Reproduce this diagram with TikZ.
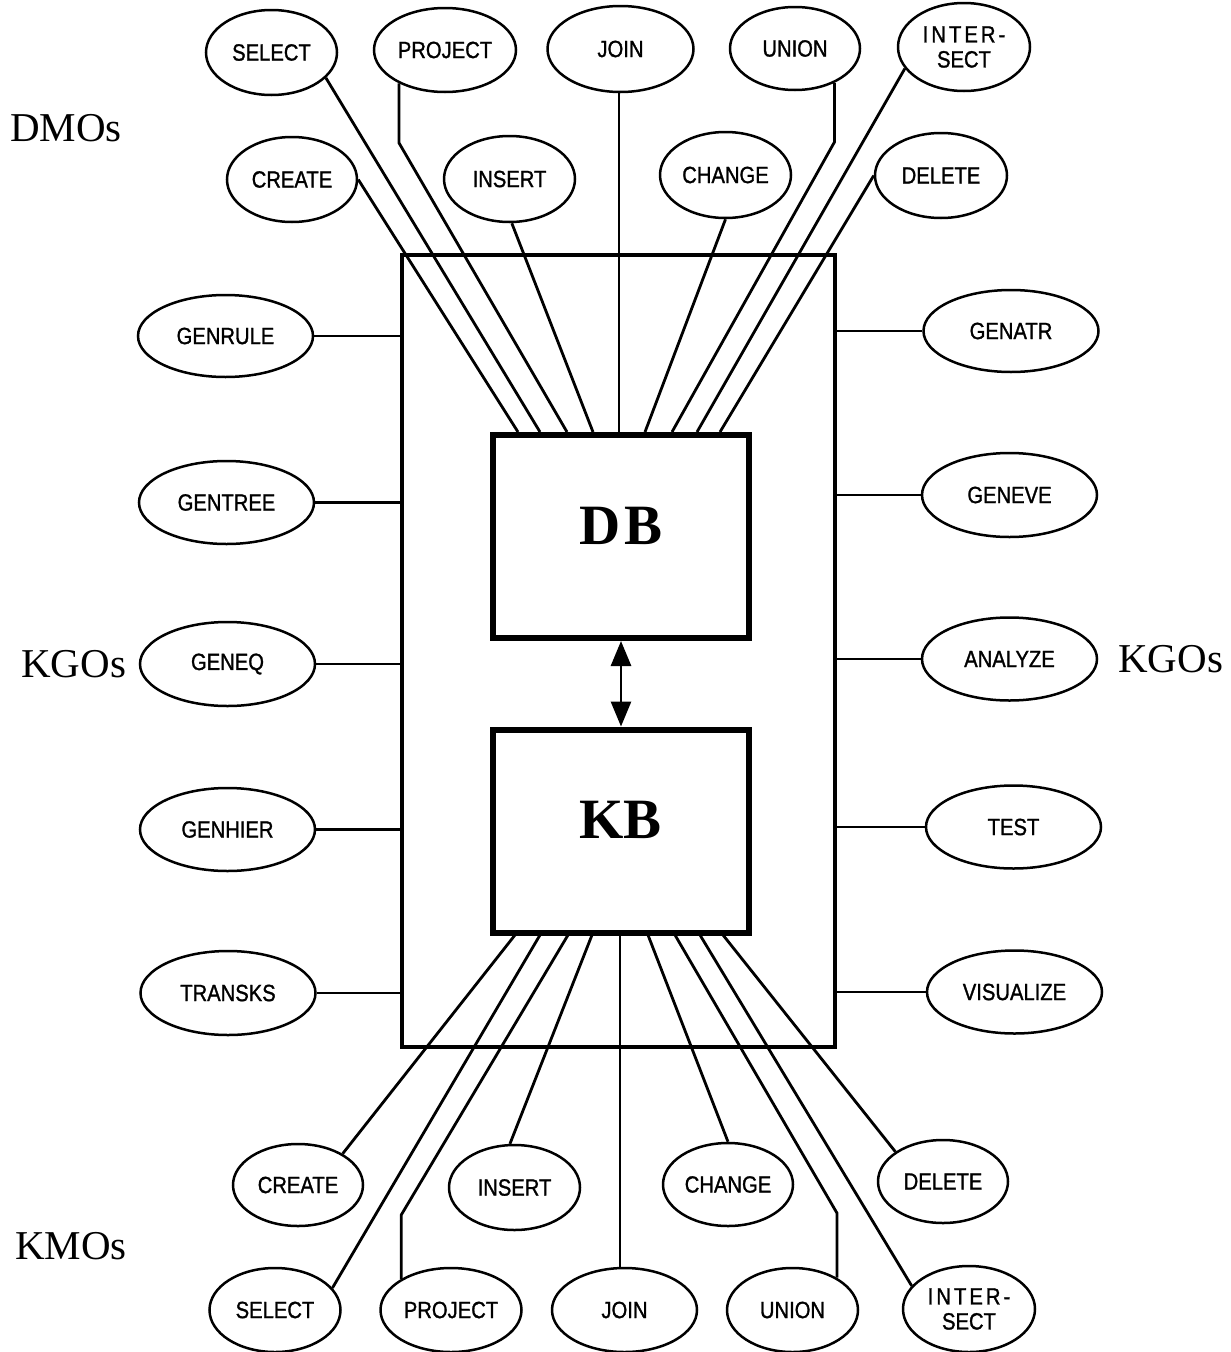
\documentclass[tikz,border=0pt]{standalone}
\usepackage{fontspec}
\setmainfont{Liberation Serif}
\newfontfamily\opfontfam{Liberation Sans}[FakeStretch=0.86,FakeBold=1.2]
\newfontfamily\lsfontfam{Liberation Sans}[FakeStretch=0.86,FakeBold=1.2,LetterSpace=13]
\usetikzlibrary{shapes.geometric,arrows.meta}
\newcommand\opfnt{\opfontfam\fontsize{23.5}{25}\selectfont}
\newcommand\grpfnt{\rmfamily\fontsize{41}{45}\selectfont}
\newcommand\storefnt{\rmfamily\bfseries\fontsize{57}{60}\selectfont}
\tikzset{
  opnode/.style={ellipse, draw, line width=2.5pt, inner sep=0pt, font=\opfnt,
                 minimum width=131pt, minimum height=85pt},
  gennode/.style={opnode, minimum width=175pt, minimum height=83pt},
  store/.style={rectangle, draw, line width=6pt, inner sep=0pt, text depth=22pt,
                minimum width=256pt, minimum height=203pt, font=\storefnt},
  frame/.style={rectangle, draw, line width=4pt, inner sep=0pt,
                minimum width=433pt, minimum height=792pt},
  conn/.style={line width=2.8pt},
  joinline/.style={line width=2.2pt},
  sideline/.style={line width=2.5pt},
  grp/.style={font=\grpfnt, anchor=base west, inner sep=0pt},
  dblarrow/.style={line width=2.8pt,
    {Triangle[length=25pt,width=20pt]}-{Triangle[length=25pt,width=20pt]}}
}
\begin{document}
\begin{tikzpicture}[x=1pt,y=-1pt]
\useasboundingbox (0,0) rectangle (1231,1352);

% frame and stores
\node[frame] (outer) at (618.5,651) {};
\node[store] (db) at (621,536.5) {D\kern4pt B};
\node[store] (kb) at (620.5,831) {KB};
\draw[dblarrow] (db.south) -- (db.south |- kb.north);

% group labels
\node[grp] (dmo) at (10,141) {DMOs};
\node[grp] (kgl) at (21,677) {KGOs};
\node[grp] (kgr) at (1118,672) {KGOs};
\node[grp] (kmo) at (15,1259) {KMOs};

% top DMOs
\node[opnode, minimum width=131pt, minimum height=85pt] (sel1) at (271.5,52.5) {SELECT};
\node[opnode, minimum width=142pt, minimum height=84pt] (pj1) at (445,50) {PROJECT};
\node[opnode, minimum width=146pt, minimum height=86pt] (jn1) at (620.5,49) {JOIN};
\node[opnode, minimum width=130pt, minimum height=83pt] (un1) at (795,48.5) {UNION};
\node[opnode, minimum width=132pt, minimum height=88pt, align=center] (is1) at (964,47) {{\lsfontfam INTER-}\\SECT};
\node[opnode, minimum width=130pt, minimum height=85pt] (cr1) at (292,179.5) {CREATE};
\node[opnode, minimum width=131pt, minimum height=86pt] (in1) at (509.5,179) {INSERT};
\node[opnode, minimum width=131pt, minimum height=86pt] (ch1) at (725.5,175) {CHANGE};
\node[opnode, minimum width=132pt, minimum height=85pt] (dl1) at (941,175.5) {DELETE};

% left KGOs
\node[gennode, minimum height=82pt] (gr) at (225.5,336) {GENRULE};
\node[gennode] (gt) at (226.5,502.5) {GENTREE};
\node[gennode, minimum height=84pt] (ge) at (227.5,664) {GENEQ};
\node[gennode] (gh) at (227.5,829.5) {GENHIER};
\node[gennode, minimum height=84pt] (tk) at (228,993) {TRANSKS};

% right KGOs
\node[gennode, minimum height=82pt] (ga) at (1011,331) {GENATR};
\node[gennode, minimum height=84pt] (gv) at (1009.5,495) {GENEVE};
\node[gennode] (an) at (1009.5,659) {ANALYZE};
\node[gennode] (ts) at (1013.5,827) {TEST};
\node[gennode] (vz) at (1014.5,992) {VISUALIZE};

% bottom KMOs
\node[opnode, minimum width=130pt, minimum height=82pt] (cr2) at (298,1185) {CREATE};
\node[opnode, minimum width=131pt, minimum height=85pt] (in2) at (514.5,1187.5) {INSERT};
\node[opnode, minimum width=130pt, minimum height=83pt] (ch2) at (728,1184.5) {CHANGE};
\node[opnode, minimum width=130pt, minimum height=83pt] (dl2) at (943,1181.5) {DELETE};
\node[opnode, minimum width=131pt, minimum height=84pt] (sel2) at (275,1310) {SELECT};
\node[opnode, minimum width=141pt, minimum height=84pt] (pj2) at (451,1310) {PROJECT};
\node[opnode, minimum width=145pt, minimum height=84pt] (jn2) at (624.5,1310) {JOIN};
\node[opnode, minimum width=131pt, minimum height=84pt] (un2) at (792.5,1310) {UNION};
\node[opnode, minimum width=132pt, minimum height=86pt, align=center] (is2) at (969,1309) {{\lsfontfam INTER-}\\SECT};

% side connectors
\foreach \n in {gr,gt,ge,gh,tk}{\draw[sideline] (\n) -- (\n -| outer.west);}
\foreach \n in {ga,gv,an,ts,vz}{\draw[sideline] (\n) -- (\n -| outer.east);}

% top connection points
\coordinate (tA) at (518,432);
\coordinate (tB) at (540,432);
\coordinate (tC) at (567,432);
\coordinate (tD) at (593,432);
\coordinate (tE) at (619,432);
\coordinate (tF) at (645,432);
\coordinate (tG) at (672,432);
\coordinate (tH) at (697,432);
\coordinate (tI) at (720,432);
\coordinate (pjbend) at (401,143);
\coordinate (unbend) at (834,142);

\draw[conn] (cr1.east) -- (tA);
\draw[conn] (sel1.-25) -- (tB);
\draw[conn] (pj1.-144) -- (pj1.-144 |- pjbend) -- (tC);
\draw[conn] (in1.-87) -- (tD);
\draw[joinline] (jn1.south -| tE) -- (tE);
\draw[conn] (ch1.south) -- (tF);
\draw[conn] (un1.-41) -- (un1.-41 |- unbend) -- (tG);
\draw[conn] (is1.-160) -- (tH);
\draw[conn] (dl1.west) -- (tI);

% bottom connection points
\coordinate (bA) at (515,935);
\coordinate (bB) at (540,935);
\coordinate (bC) at (568,935);
\coordinate (bD) at (592,935);
\coordinate (bE) at (620,935);
\coordinate (bF) at (648,935);
\coordinate (bG) at (675,935);
\coordinate (bH) at (700,935);
\coordinate (bI) at (723,935);
\coordinate (pjbend2) at (403,1215);
\coordinate (unbend2) at (837,1213);

\draw[conn] (cr2.35) -- (bA);
\draw[conn] (sel2.21) -- (bB);
\draw[conn] (pj2.148) -- (pj2.148 |- pjbend2) -- (bC);
\draw[conn] (in2.96) -- (bD);
\draw[joinline] (jn2.north -| bE) -- (bE);
\draw[conn] (ch2.north) -- (bF);
\draw[conn] (un2.36) -- (un2.36 |- unbend2) -- (bG);
\draw[conn] (is2.158) -- (bH);
\draw[conn] (dl2.148) -- (bI);
\end{tikzpicture}
\end{document}
